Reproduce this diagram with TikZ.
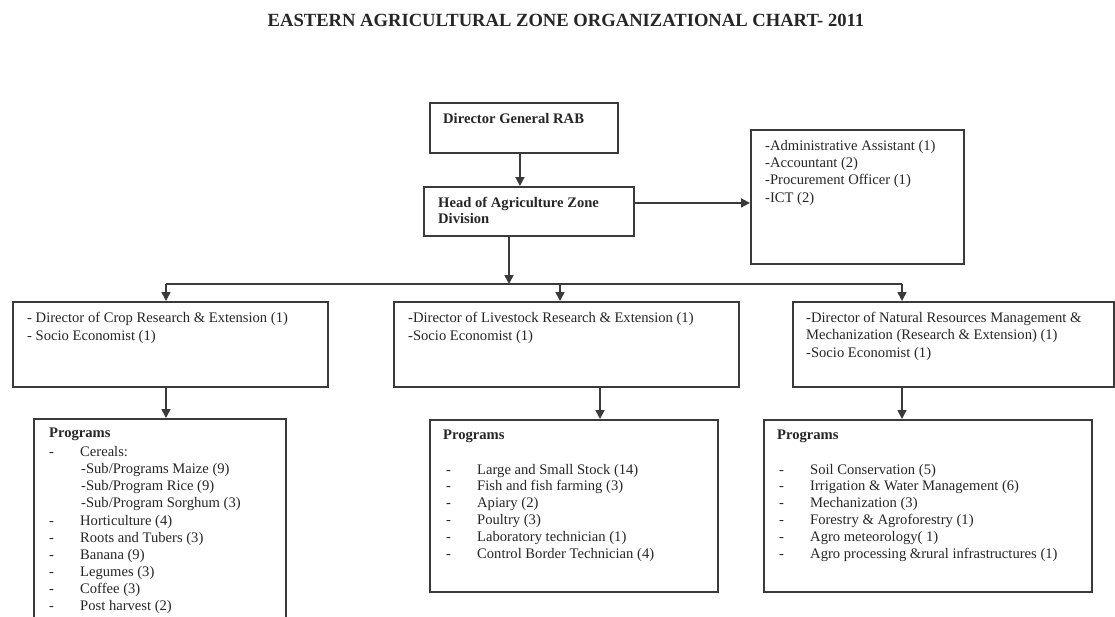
\documentclass[tikz,border=0pt]{standalone}
\usepackage{fontspec}
\setmainfont{Liberation Serif}
\usetikzlibrary{arrows.meta}
\definecolor{inkc}{HTML}{262626}
\definecolor{linec}{HTML}{3A3A3A}
\begin{document}
\begin{tikzpicture}[x=1pt,y=-1pt,
  box/.style={draw=linec, line width=1.9pt, inner sep=0pt, anchor=north west},
  conn/.style={draw=linec, line width=1.6pt, -{Triangle[length=9pt,width=9pt]}},
  busline/.style={draw=linec, line width=1.6pt},
  txt/.style={text=inkc, inner sep=0pt, anchor=base west, align=left,
    font=\fontsize{14.6}{17.3}\selectfont},
  bold/.style={txt, font=\fontsize{14.6}{16.5}\selectfont\bfseries},
  ttl/.style={text=inkc, inner sep=0pt, anchor=base,
    font=\fontsize{18.6}{20}\selectfont\bfseries}]
\useasboundingbox (0,0) rectangle (1115,616);
\clip (0,0) rectangle (1115,616);
\fill[white] (0,0) rectangle (1115,616);

\newcommand{\dashitem}[1]{\makebox[31pt][l]{-}#1}

% title
\node[ttl] (title) at (566,26) {EASTERN AGRICULTURAL ZONE ORGANIZATIONAL CHART- 2011};

% boxes
\node[box, minimum width=188, minimum height=50] (dg) at (429,102) {};
\node[box, minimum width=210, minimum height=49] (head) at (423,186) {};
\node[box, minimum width=213, minimum height=134] (admin) at (750,129) {};
\node[box, minimum width=315, minimum height=85] (crop) at (12,301) {};
\node[box, minimum width=345, minimum height=85] (live) at (393,301) {};
\node[box, minimum width=321, minimum height=85] (nrm) at (792,301) {};
\node[box, minimum width=252, minimum height=215] (pcrop) at (33,418) {};
\node[box, minimum width=288, minimum height=172] (plive) at (429,419) {};
\node[box, minimum width=328, minimum height=172] (pnrm) at (763,419) {};

% box texts (multi-line nodes sit on the baseline of their last line)
\node[bold] (dgt) at (443,123) {Director General RAB};
\node[bold] (headt) at (438,223.5) {Head of Agriculture Zone\\Division};
\node[txt] (admint) at (765,202) {-Administrative Assistant (1)\\-Accountant (2)\\-Procurement Officer (1)\\-ICT (2)};
\node[txt] (cropt) at (27,340) {- Director of Crop Research \& Extension (1)\\- Socio Economist (1)};
\node[txt] (livet) at (408,340) {-Director of Livestock Research \& Extension (1)\\-Socio Economist (1)};
\node[txt] (nrmt) at (806,357) {-Director of Natural Resources Management \&\\Mechanization (Research \& Extension) (1)\\-Socio Economist (1)};

\node[bold] (pcroph) at (49,437.5) {Programs};
\node[txt, font=\fontsize{14.6}{17.1}\selectfont] (pcropt) at (49,610.5) {\dashitem{Cereals:}\\
  \hspace*{32pt}-Sub/Programs Maize (9)\\
  \hspace*{32pt}-Sub/Program Rice (9)\\
  \hspace*{32pt}-Sub/Program Sorghum (3)\\
  \dashitem{Horticulture (4)}\\
  \dashitem{Roots and Tubers (3)}\\
  \dashitem{Banana (9)}\\
  \dashitem{Legumes (3)}\\
  \dashitem{Coffee (3)}\\
  \dashitem{Post harvest (2)}};

\node[bold] (pliveh) at (443,439) {Programs};
\node[txt, font=\fontsize{14.6}{16.8}\selectfont] (plivet) at (446,558) {\dashitem{Large and Small Stock (14)}\\
  \dashitem{Fish and fish farming (3)}\\
  \dashitem{Apiary (2)}\\
  \dashitem{Poultry (3)}\\
  \dashitem{Laboratory technician (1)}\\
  \dashitem{Control Border Technician (4)}};

\node[bold] (pnrmh) at (777,439) {Programs};
\node[txt, font=\fontsize{14.6}{16.8}\selectfont] (pnrmt) at (779,558) {\dashitem{Soil Conservation (5)}\\
  \dashitem{Irrigation \& Water Management (6)}\\
  \dashitem{Mechanization (3)}\\
  \dashitem{Forestry \& Agroforestry (1)}\\
  \dashitem{Agro meteorology( 1)}\\
  \dashitem{Agro processing \&rural infrastructures (1)}};

% connectors
\coordinate (busL) at (166,284);
\coordinate (busM) at (560,284);
\coordinate (busR) at (902,284);
\coordinate (busH) at (509,284);
\draw[conn] ([xshift=-4pt]dg.south) -- ([xshift=-4pt]dg.south |- head.north);
\draw[conn] ([yshift=8.5pt]head.east) -- ([yshift=8.5pt]head.east -| admin.west);
\draw[busline] (busL) -- (busR);
\draw[conn] (busH |- head.south) -- (busH);
\draw[conn] (busL) -- (busL |- crop.north);
\draw[conn] (busM) -- (busM |- live.north);
\draw[conn] (busR) -- (busR |- nrm.north);
\draw[conn] (busL |- crop.south) -- (busL |- pcrop.north);
\coordinate (liveX) at (600,0);
\draw[conn] (liveX |- live.south) -- (liveX |- plive.north);
\draw[conn] (busR |- nrm.south) -- (busR |- pnrm.north);
\end{tikzpicture}
\end{document}
